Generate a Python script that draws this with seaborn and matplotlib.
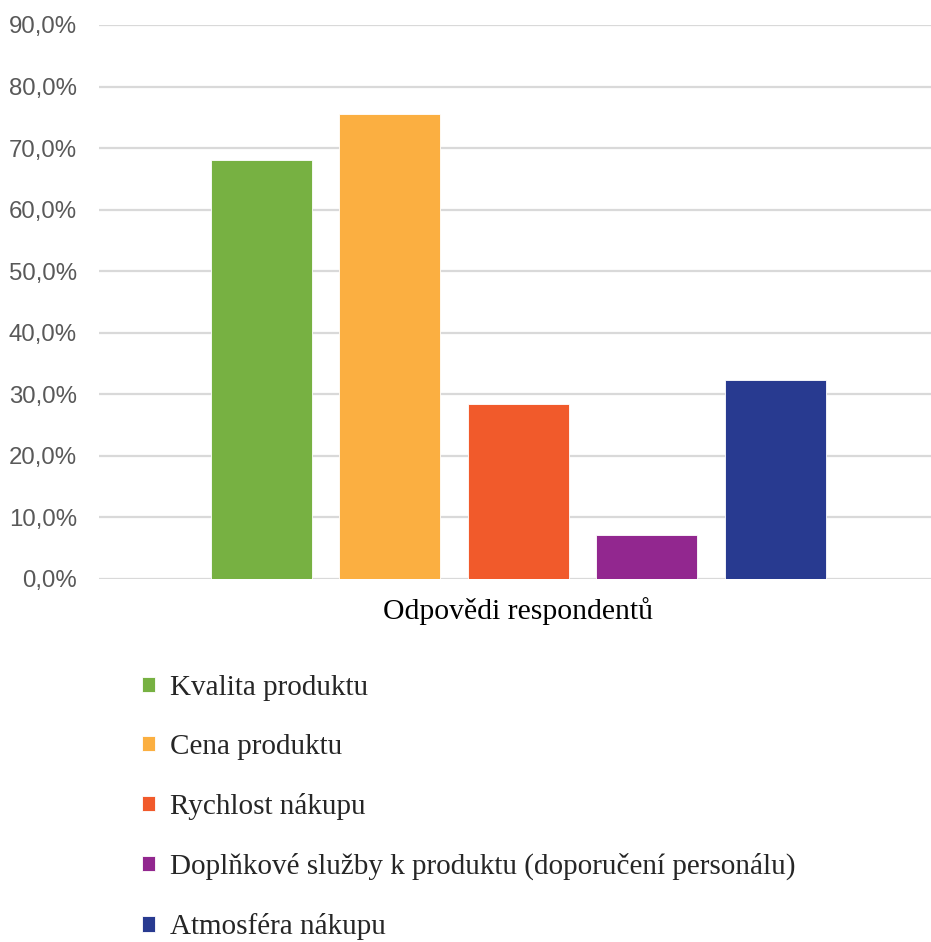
import pandas as pd
import matplotlib
matplotlib.use("Agg")
import matplotlib.pyplot as plt
from matplotlib.ticker import FuncFormatter, MultipleLocator
import seaborn as sns

# data (share of respondents, %)
skupina = "Odpovědi respondentů"
kategorie = [
    "Kvalita produktu",
    "Cena produktu",
    "Rychlost nákupu",
    "Doplňkové služby k produktu (doporučení personálu)",
    "Atmosféra nákupu",
]
podil = [68.0, 75.5, 28.4, 7.1, 32.3]
barvy = ["#77B142", "#FBAF41", "#F15A2B", "#92278F", "#283A90"]

df = pd.DataFrame({"skupina": [skupina] * len(kategorie),
                   "kategorie": kategorie,
                   "podil": podil})

sns.set_style("white")

fig = plt.figure(figsize=(9.31, 9.42), dpi=100)
ax = fig.add_axes([99 / 931, 1 - 579 / 942, 1 - 99 / 931, (579 - 25) / 942])

sns.barplot(data=df, x="skupina", y="podil", hue="kategorie",
            hue_order=kategorie, palette=barvy, saturation=1,
            width=0.773, gap=0.215, edgecolor="white", linewidth=0.6,
            errorbar=None, ax=ax)

ax.set_ylim(0, 90)
ax.set_xlim(-0.504, 0.496)
ax.yaxis.set_major_locator(MultipleLocator(10))
ax.yaxis.set_major_formatter(FuncFormatter(lambda v, _: f"{v:.1f}%".replace(".", ",")))
ax.grid(axis="y", color="#D9D9D9", linewidth=1.6)
ax.set_axisbelow(True)
for s in ax.spines.values():
    s.set_visible(False)

ax.set_xlabel("")
ax.set_ylabel("")
ax.tick_params(axis="y", length=0, pad=16, labelsize=17.3, labelcolor="#595959")
ax.tick_params(axis="x", length=0, pad=13)
for t in ax.get_yticklabels():
    t.set_fontfamily("Liberation Sans")
for t in ax.get_xticklabels():
    t.set_fontfamily("Liberation Serif")
    t.set_fontsize(21.3)
    t.set_color("black")

sns.move_legend(ax, "upper left", bbox_to_anchor=(142 / 931, 1 - 675 / 942),
                bbox_transform=fig.transFigure, frameon=False, title=None,
                prop={"family": "Liberation Serif", "size": 21},
                handlelength=0.45, handleheight=0.45, handletextpad=0.5,
                labelspacing=1.13, borderpad=0, borderaxespad=0)

fig.savefig("out.png", dpi=100)
